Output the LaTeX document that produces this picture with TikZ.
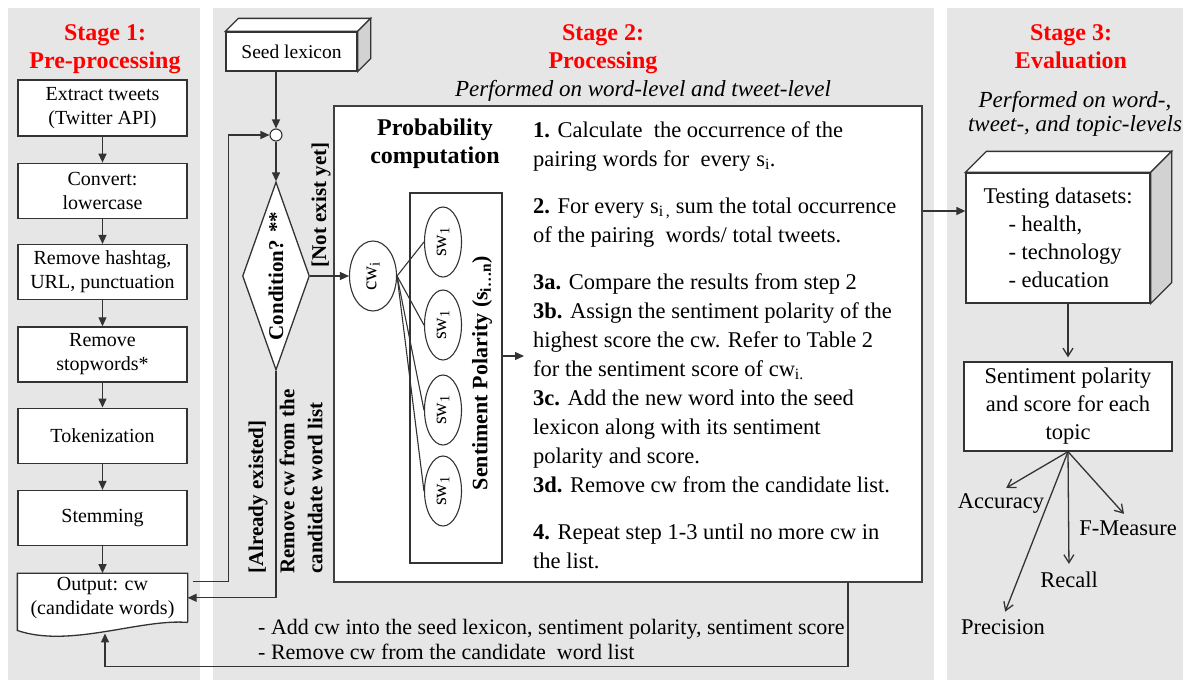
\documentclass[tikz,border=0pt]{standalone}
\usepackage{fontspec}
\setmainfont{Liberation Serif}
\usetikzlibrary{arrows.meta,positioning,shapes.geometric,calc}
\definecolor{panelgray}{RGB}{230,230,230}
\definecolor{stagered}{RGB}{255,0,0}
\definecolor{sidegray}{RGB}{210,210,210}
\newcommand{\solidfaces}[2]{%
  \filldraw[conn, fill=white] (#1.north west) -- ++(#2,-#2) -- ($(#1.north east)+(#2,-#2)$) -- (#1.north east) -- cycle;
  \filldraw[conn, fill=sidegray] (#1.north east) -- ++(#2,-#2) -- ($(#1.south east)+(#2,-#2)$) -- (#1.south east) -- cycle;}
\tikzset{
  panel/.style={fill=panelgray, draw=none},
  procbox/.style={draw=black!80, fill=white, line width=1.3pt, minimum width=169pt,
    minimum height=55pt, align=center, inner sep=2pt, font=\fontsize{20}{24}\selectfont},
  stagetitle/.style={anchor=base, text=stagered, font=\fontsize{24}{28}\selectfont\bfseries},
  subtitle/.style={anchor=base, font=\fontsize{23}{28}\selectfont\itshape},
  ovalnode/.style={ellipse, draw=black!80, fill=white, line width=1.1pt, rotate=90, inner sep=0pt},
  sidelabel/.style={rotate=90, inner sep=1pt, font=\fontsize{21}{28}\selectfont\bfseries},
  mlabel/.style={inner sep=2pt, font=\fontsize{22.5}{27}\selectfont},
  conn/.style={draw=black!80, line width=1.3pt},
  arrw/.style={conn, -{Triangle[length=9pt,width=8pt]}},
  oarrw/.style={conn, -{Straight Barb[length=8pt,width=10pt]}},
}
\begin{document}
\begin{tikzpicture}[x=1pt, y=-1pt]
  \useasboundingbox (0,0) rectangle (1189,680);
  % stage panels
  \fill[panel] (8,8) rectangle (200,680);
  \fill[panel] (213,8) rectangle (934,680);
  \fill[panel] (947,8) rectangle (1183,680);

  \node[stagetitle] (st1a) at (105,40) {Stage 1:};
  \node[stagetitle] (st1b) at (105,68) {Pre-processing};
  \node[stagetitle] (st2a) at (603,40) {Stage 2:};
  \node[stagetitle] (st2b) at (603,68) {Processing};
  \node[subtitle] (st2c) at (643,96) {Performed on word-level and tweet-level};
  \node[stagetitle] (st3a) at (1071,40) {Stage 3:};
  \node[stagetitle] (st3b) at (1071,68) {Evaluation};
  \node[subtitle] (st3c) at (1075,107) {Performed on word-,};
  \node[subtitle] (st3d) at (1075,131) {tweet-, and topic-levels};

  % stage 1
  \node[procbox, minimum height=56pt] (extract) at (102.5,108) {Extract tweets\\(Twitter API)};
  \node[procbox, below=26pt of extract] (convert) {Convert:\\lowercase};
  \node[procbox, below=25pt of convert] (hashtag) {Remove hashtag,\\URL, punctuation};
  \node[procbox, below=26pt of hashtag] (stopword) {Remove\\stopwords*};
  \node[procbox, below=25pt of stopword] (tokenize) {Tokenization};
  \node[procbox, below=26pt of tokenize] (stemming) {Stemming};
  \node[procbox, draw=none, fill=none, minimum height=48pt, below=27pt of stemming] (output) {};
  \filldraw[conn, fill=white] (output.south east) -- (output.north east) -- (output.north west)
    -- ([yshift=-8pt]output.south west) .. controls +(52,18) and +(-47,-4) .. (output.south east);
  \node[font=\fontsize{20}{24}\selectfont, align=center] (outtext) at (output) {Output: cw\\(candidate words)};

  \foreach \a/\b in {extract/convert, convert/hashtag, hashtag/stopword,
                     stopword/tokenize, tokenize/stemming, stemming/output}
    \draw[arrw] (\a) -- (\b);

  % stage 2
  \node[procbox, minimum width=131pt, minimum height=39pt, font=\fontsize{19.5}{24}\selectfont] (seed)
    at (291.5,51.5) {Seed lexicon};
  \solidfaces{seed}{13}
  \node[circle, draw=black!80, fill=white, line width=1.1pt, minimum size=12pt, inner sep=0pt] (merge)
    at (276,135) {};
  \node[diamond, draw=black!80, fill=white, line width=1.3pt, minimum width=67pt,
    minimum height=188pt, inner sep=0pt] (cond) at (276,276) {};
  \node[sidelabel] (condlbl) at (cond) {Condition? **};

  \draw[arrw] (seed.south -| merge) -- (merge);
  \draw[arrw] (merge) -- (cond);
  \draw[arrw] ([xshift=5pt,yshift=16pt]output.east) -- ++(36,0) |- (merge.west);
  \draw[arrw] (cond.south) |- (output.east);

  \node[sidelabel] (notexist) at (321,205) {[Not exist yet]};
  \node[sidelabel, anchor=west] (existed) at (258,575) {[Already existed]};
  \node[sidelabel, anchor=west, align=left] (removecw) at (301,575) {Remove cw from the\\candidate word list};

  \node[draw=black!75, fill=white, line width=1.6pt, minimum width=588pt, minimum height=476pt,
    inner sep=0pt] (prob) at (628,344) {};
  \node[anchor=base, font=\fontsize{24}{28}\selectfont\bfseries] (probt1) at (435,135) {Probability};
  \node[anchor=base, font=\fontsize{24}{28}\selectfont\bfseries] (probt2) at (435,163) {computation};

  \node[ovalnode, minimum width=70pt, minimum height=47pt, font=\fontsize{21}{24}\selectfont] (cw)
    at (373,276) {cw\textsubscript{i}};
  \draw[arrw] (cond.east) -- (cw);

  \node[draw=black!80, line width=1.3pt, minimum width=92pt, minimum height=370pt, inner sep=0pt] (spbox)
    at (456,378) {};
  \node[sidelabel, font=\fontsize{22}{26}\selectfont\bfseries] (splabel) at (482,373)
    {Sentiment Polarity (s\textsubscript{i…n})};
  \foreach \k/\y in {1/242, 2/325, 3/410, 4/491} {
    \node[ovalnode, minimum width=70pt, minimum height=37pt, font=\fontsize{20}{24}\selectfont] (sw\k)
      at (443,\y) {sw\textsubscript{1}};
    \draw[conn, line width=1.1pt] (cw.south) -- (sw\k.north);
  }

  \coordinate (stepin) at (524,356);
  \draw[arrw] (spbox.east |- stepin) -- (stepin);
  \node[anchor=north west, align=left, inner sep=0pt, font=\fontsize{22.5}{29}\selectfont] (steps) at (533,121)
    {\textbf{1.} Calculate\ \ the occurrence of the\\
     pairing words for\ \ every s\textsubscript{i}.\\[18pt]
     \textbf{2.} For every s\textsubscript{i\,,} sum the total occurrence\\
     of the pairing\ \ words/ total tweets.\\[18pt]
     \textbf{3a.} Compare the results from step 2\\
     \textbf{3b.} Assign the sentiment polarity of the\\
     highest score the cw. Refer to Table 2\\
     for the sentiment score of cw\textsubscript{i.}\\
     \textbf{3c.} Add the new word into the seed\\
     lexicon along with its sentiment\\
     polarity and score.\\
     \textbf{3d.} Remove cw from the candidate list.\\[18pt]
     \textbf{4.} Repeat step 1-3 until no more cw in\\
     the list.};

  % feedback loop
  \draw[arrw] ([xshift=220pt]prob.south) -- ++(0,84) -| ([xshift=2.5pt,yshift=-11pt]output.south);
  \node[anchor=north west, align=left, inner sep=0pt, font=\fontsize{22}{25}\selectfont] (fbtext) at (258,619)
    {- Add cw into the seed lexicon, sentiment polarity, sentiment score\\
     - Remove cw from the candidate\ \ word list};

  % stage 3
  \node[procbox, minimum width=184pt, minimum height=130pt, align=left, font=\fontsize{22.5}{28}\selectfont]
    (testing) at (1058,238) {Testing datasets:\\\hspace*{25pt}- health,\\\hspace*{25pt}- technology\\\hspace*{25pt}- education};
  \solidfaces{testing}{21}
  \draw[arrw] ([yshift=27pt]testing.west -| prob.east) -- ([yshift=27pt]testing.west);

  \node[procbox, minimum width=208pt, minimum height=89pt, font=\fontsize{22.5}{28}\selectfont] (result)
    at (1068,406.5) {Sentiment polarity\\and score for each\\topic};
  \draw[oarrw, shorten >=4pt] (testing.south -| result.north) -- (result.north);

  \node[mlabel] (accuracy) at (1001,503) {Accuracy};
  \node[mlabel] (fmeasure) at (1128,528) {F-Measure};
  \node[mlabel] (recall) at (1069,580) {Recall};
  \node[mlabel] (precision) at (1003,627) {Precision};
  \foreach \m in {accuracy, fmeasure, recall, precision}
    \draw[oarrw, shorten >=6pt] (result.south) -- (\m.north);
\end{tikzpicture}
\end{document}
